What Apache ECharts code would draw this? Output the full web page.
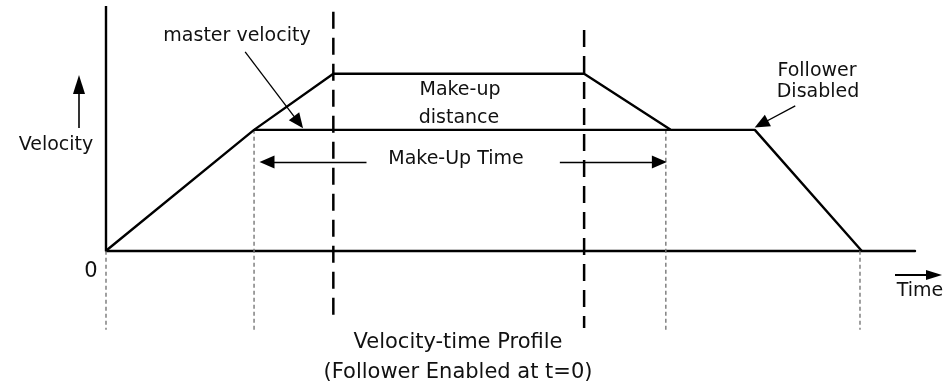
<!DOCTYPE html>
<html>
<head>
<meta charset="utf-8">
<script src="https://cdn.jsdelivr.net/npm/echarts@6/dist/echarts.min.js"></script>
<style>
  html, body { margin: 0; padding: 0; background: #fff; }
  #chart { width: 952px; height: 385px; }
</style>
</head>
<body>
<div id="chart"></div>
<script>
// follower velocity profile (time, velocity)
var profileTime = [0, 18.3, 28.1, 59.1, 69.8, 80.2, 93.4];
var profileVelocity = [0, 49.4, 72.3, 72.3, 49.4, 49.4, 0];
// master velocity plateau
var masterTime = [18.3, 69.8];
var masterVelocity = [49.4, 49.4];
// thin dotted guides down from the corners
var guideTime = [0, 18.3, 69.2, 93.2];
var guideTop = [0, 49.4, 49.4, 0];
var guideBottom = [-32.3, -33.1, -32.3, -32.3];
// heavy dashed phase markers
var phaseTime = [28.1, 59.1];
var phaseTop = [97.6, 90.2];
var phaseBottom = [-29.5, -31.5];
// annotation arrows: from -> to
var arrowFrom = [[17.2, 81.3], [32.2, 36.3], [56.1, 36.3], [85.2, 59.2]];
var arrowTo = [[23.8, 52.5], [19.9, 36.3], [68.4, 36.3], [81.0, 51.8]];

var FONT = '"DejaVu Sans", sans-serif';

function pairs(xs, ys) {
  return xs.map(function (x, i) { return [x, ys[i]]; });
}

function label(text, x, y, size) {
  return {
    type: 'text', x: x, y: y, silent: true,
    style: {
      text: text, fill: '#111', align: 'center', verticalAlign: 'middle',
      font: (size || 19) + 'px ' + FONT
    }
  };
}

var series = [
  {
    type: 'line', symbol: 'none', silent: true,
    data: pairs(profileTime, profileVelocity),
    lineStyle: { color: '#000', width: 2.4 }
  },
  {
    type: 'line', symbol: 'none', silent: true,
    data: pairs(masterTime, masterVelocity),
    lineStyle: { color: '#000', width: 2.4 },
    markLine: {
      silent: true,
      symbol: ['none', 'triangle'],
      symbolSize: [13, 15],
      label: { show: false },
      lineStyle: { color: '#000', width: 1.3, type: 'solid' },
      data: arrowFrom.map(function (f, i) {
        return [{ coord: f }, { coord: arrowTo[i] }];
      })
    }
  },
  {
    // vertical velocity axis, only above zero
    type: 'line', symbol: 'none', silent: true,
    data: [[0, 0], [0, 100]],
    lineStyle: { color: '#000', width: 2.4 }
  }
];

guideTime.forEach(function (t, i) {
  series.push({
    type: 'line', symbol: 'none', silent: true, z: 1,
    data: [[t, guideTop[i]], [t, guideBottom[i]]],
    lineStyle: { color: '#777', width: 1.4, type: [4, 3] }
  });
});

phaseTime.forEach(function (t, i) {
  series.push({
    type: 'line', symbol: 'none', silent: true, z: 1,
    data: [[t, phaseTop[i]], [t, phaseBottom[i]]],
    lineStyle: { color: '#000', width: 2.5, type: [17, 9] }
  });
});

var chart = echarts.init(document.getElementById('chart'));
chart.setOption({
  animation: false,
  backgroundColor: '#fff',
  grid: { left: 106, right: 37, top: 6, bottom: 51 },
  xAxis: {
    type: 'value', min: 0, max: 100,
    axisLine: { onZero: true, lineStyle: { color: '#000', width: 2.4 } },
    axisTick: { show: false },
    axisLabel: { show: false },
    splitLine: { show: false }
  },
  yAxis: {
    type: 'value', min: -34, max: 100,
    axisLine: { show: false },
    axisTick: { show: false },
    axisLabel: { show: false },
    splitLine: { show: false }
  },
  series: series,
  graphic: [
    label('master velocity', 237, 36),
    label('Make-up', 460, 90),
    label('distance', 459, 118),
    label('Make-Up Time', 456, 159),
    label('Velocity', 56, 145),
    label('Follower', 817, 71.5),
    label('Disabled', 818, 92.5),
    label('0', 91, 272, 21),
    label('Time', 920, 291),
    label('Velocity-time Profile', 458, 343, 21),
    label('(Follower Enabled at t=0)', 458, 373, 21),
    { type: 'line', silent: true, shape: { x1: 79, y1: 128, x2: 79, y2: 90 },
      style: { stroke: '#000', lineWidth: 1.6 } },
    { type: 'polygon', silent: true, shape: { points: [[79, 75], [73, 94], [85, 94]] },
      style: { fill: '#000' } },
    { type: 'line', silent: true, shape: { x1: 895, y1: 275, x2: 930, y2: 275 },
      style: { stroke: '#000', lineWidth: 2.2 } },
    { type: 'polygon', silent: true, shape: { points: [[942, 275], [926, 270], [926, 280]] },
      style: { fill: '#000' } }
  ]
});
</script>
</body>
</html>
